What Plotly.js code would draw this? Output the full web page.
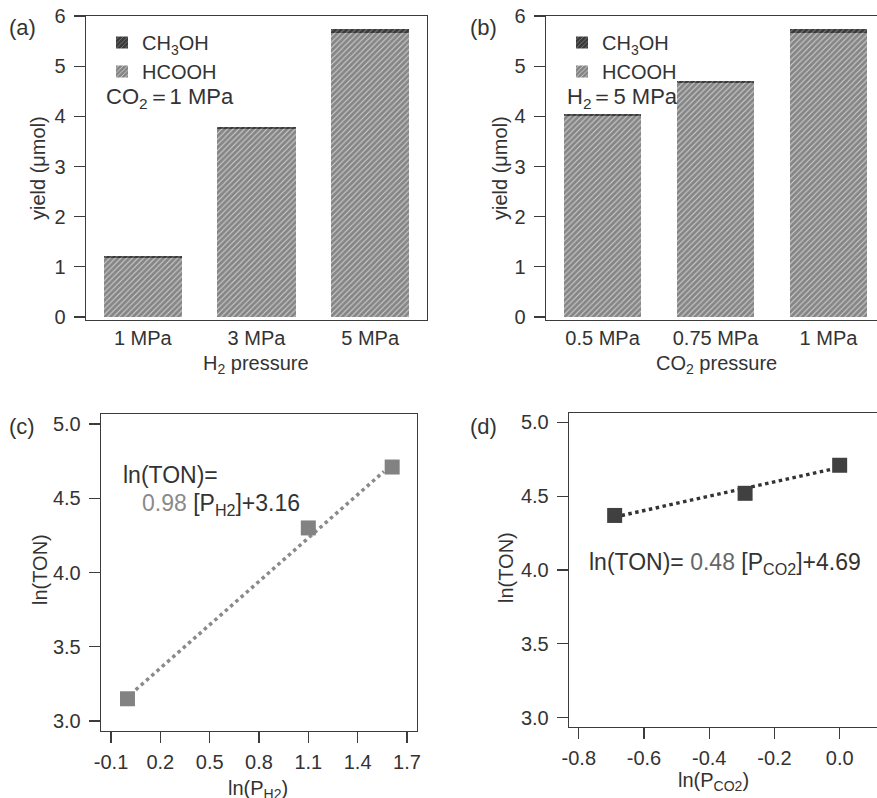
<!DOCTYPE html>
<html>
<head>
<meta charset="utf-8">
<script src="https://cdn.plot.ly/plotly-3.0.1.min.js"></script>
<style>
html,body{margin:0;padding:0;overflow:hidden;background:#fff;}
#chart{width:892px;height:798px;}
</style>
</head>
<body>
<div id="chart"></div>
<script>
// ---- data ----
const h2Pressures = ['1 MPa', '3 MPa', '5 MPa'];
const hcoohA = [1.17, 3.74, 5.66];
const ch3ohA = [0.04, 0.05, 0.08];

const co2Pressures = ['0.5 MPa', '0.75 MPa', '1 MPa'];
const hcoohB = [4.01, 4.67, 5.66];
const ch3ohB = [0.04, 0.04, 0.08];

const lnPH2 = [0.0, 1.10, 1.61];
const lnTONc = [3.15, 4.30, 4.71];
const fitCx = [0.05, 1.56];
const fitCy = [3.21, 4.68];

const lnPCO2 = [-0.69, -0.29, 0.0];
const lnTONd = [4.37, 4.52, 4.71];
const fitDx = [-0.69, -0.01];
const fitDy = [4.36, 4.69];

const cTicks = [-0.1, 0.2, 0.5, 0.8, 1.1, 1.4, 1.7];
const cTickText = ['-0.1', '0.2', '0.5', '0.8', '1.1', '1.4', '1.7'];
const dTicks = [-0.8, -0.6, -0.4, -0.2, 0.0];
const dTickText = ['-0.8', '-0.6', '-0.4', '-0.2', '0.0'];

// ---- layout helpers ----
const W = 892, H = 798;
const px = x => x / W;
const py = y => 1 - y / H;
const FONT = 'Liberation Sans, Arial, sans-serif';
const TXT = '#333333';
const AX = '#3c3c3c';

const patH = {shape: '/', bgcolor: '#858585', fgcolor: '#cfcfcf', size: 4, solidity: 0.28};
const patC = {shape: '/', bgcolor: '#3a3a3a', fgcolor: '#7a7a7a', size: 4, solidity: 0.28};

const traces = [
  {type: 'bar', x: h2Pressures, y: hcoohA, name: 'HCOOH', xaxis: 'x', yaxis: 'y',
   marker: {color: '#858585', pattern: patH, line: {width: 0}}, legend: 'legend'},
  {type: 'bar', x: h2Pressures, y: ch3ohA, name: 'CH<sub>3</sub>OH', xaxis: 'x', yaxis: 'y',
   marker: {color: '#3a3a3a', pattern: patC, line: {width: 0}}, legend: 'legend'},
  {type: 'bar', x: co2Pressures, y: hcoohB, name: 'HCOOH', xaxis: 'x2', yaxis: 'y2',
   marker: {color: '#858585', pattern: patH, line: {width: 0}}, legend: 'legend2'},
  {type: 'bar', x: co2Pressures, y: ch3ohB, name: 'CH<sub>3</sub>OH', xaxis: 'x2', yaxis: 'y2',
   marker: {color: '#3a3a3a', pattern: patC, line: {width: 0}}, legend: 'legend2'},
  {type: 'scatter', mode: 'lines', x: fitCx, y: fitCy, xaxis: 'x3', yaxis: 'y3', showlegend: false,
   line: {color: '#8a8a8a', width: 3.5, dash: 'dot'}},
  {type: 'scatter', mode: 'markers', x: lnPH2, y: lnTONc, xaxis: 'x3', yaxis: 'y3', showlegend: false,
   marker: {symbol: 'square', size: 15, color: '#828282'}},
  {type: 'scatter', mode: 'lines', x: fitDx, y: fitDy, xaxis: 'x4', yaxis: 'y4', showlegend: false,
   line: {color: '#333333', width: 3.5, dash: 'dot'}},
  {type: 'scatter', mode: 'markers', x: lnPCO2, y: lnTONd, xaxis: 'x4', yaxis: 'y4', showlegend: false,
   marker: {symbol: 'square', size: 15, color: '#404040'}}
];

const tickFont = {family: FONT, size: 20, color: TXT};
const baseAxis = {
  showgrid: false, zeroline: false, showline: true, linecolor: AX, linewidth: 1.3,
  mirror: true, tickfont: tickFont, tickcolor: AX, automargin: false, fixedrange: true
};

const layout = {
  width: W, height: H,
  margin: {l: 0, r: 0, t: 0, b: 0},
  paper_bgcolor: '#ffffff', plot_bgcolor: '#ffffff',
  font: {family: FONT, color: TXT},
  barmode: 'stack', bargap: 0.31,
  xaxis: Object.assign({}, baseAxis, {domain: [px(86), px(427)], anchor: 'y', ticks: '', ticklabelstandoff: 0}),
  yaxis: Object.assign({}, baseAxis, {domain: [py(320), py(16)], anchor: 'x', range: [-0.06, 6],
    dtick: 1, ticks: 'outside', ticklen: 11, tickwidth: 1.2, ticklabelstandoff: 4}),
  xaxis2: Object.assign({}, baseAxis, {domain: [px(546), px(885)], anchor: 'y2', ticks: '', ticklabelstandoff: 0}),
  yaxis2: Object.assign({}, baseAxis, {domain: [py(320), py(16)], anchor: 'x2', range: [-0.06, 6],
    dtick: 1, ticks: 'outside', ticklen: 11, tickwidth: 1.2, ticklabelstandoff: 4}),
  xaxis3: Object.assign({}, baseAxis, {domain: [px(101), px(417)], anchor: 'y3', range: [-0.161, 1.761],
    tickmode: 'array', tickvals: cTicks, ticktext: cTickText, ticks: 'outside', ticklen: 11, tickwidth: 1.2, ticklabelstandoff: 2}),
  yaxis3: Object.assign({}, baseAxis, {domain: [py(731), py(414)], anchor: 'x3', range: [2.933, 5.067],
    dtick: 0.5, tickformat: '.1f', ticks: 'outside', ticklen: 11, tickwidth: 1.2, ticklabelstandoff: 4}),
  xaxis4: Object.assign({}, baseAxis, {domain: [px(569), px(885)], anchor: 'y4', range: [-0.83, 0.139],
    tickmode: 'array', tickvals: dTicks, ticktext: dTickText, ticks: 'outside', ticklen: 11, tickwidth: 1.2, ticklabelstandoff: 2}),
  yaxis4: Object.assign({}, baseAxis, {domain: [py(727), py(413)], anchor: 'x4', range: [2.937, 5.064],
    dtick: 0.5, tickformat: '.1f', ticks: 'outside', ticklen: 11, tickwidth: 1.2, ticklabelstandoff: 4}),
  legend: {x: px(102), y: py(23), xanchor: 'left', yanchor: 'top', traceorder: 'reversed',
    bgcolor: 'rgba(0,0,0,0)', font: {family: FONT, size: 20, color: TXT}, itemwidth: 30, tracegroupgap: 0},
  legend2: {x: px(562), y: py(23), xanchor: 'left', yanchor: 'top', traceorder: 'reversed',
    bgcolor: 'rgba(0,0,0,0)', font: {family: FONT, size: 20, color: TXT}, itemwidth: 30, tracegroupgap: 0},
  annotations: []
};

function ann(text, x, y, opts) {
  layout.annotations.push(Object.assign({
    text: text, xref: 'paper', yref: 'paper', x: px(x), y: py(y),
    xanchor: 'left', yanchor: 'middle', showarrow: false,
    font: {family: FONT, size: 20, color: TXT}
  }, opts || {}));
}

// panel labels
ann('(a)', 7, 27, {font: {family: FONT, size: 22, color: TXT}});
ann('(b)', 468, 27, {font: {family: FONT, size: 22, color: TXT}});
ann('(c)', 7, 426, {font: {family: FONT, size: 22, color: TXT}});
ann('(d)', 468, 426, {font: {family: FONT, size: 22, color: TXT}});

// condition texts
ann('CO<sub>2</sub>＝1 MPa', 104, 98, {font: {family: FONT, size: 22, color: TXT}});
ann('H<sub>2</sub>＝5 MPa', 565, 98, {font: {family: FONT, size: 22, color: TXT}});

// axis titles
ann('yield (μmol)', 38, 168, {xanchor: 'center', textangle: -90});
ann('yield (μmol)', 500, 168, {xanchor: 'center', textangle: -90});
ann('H<sub>2</sub> pressure', 256, 364, {xanchor: 'center'});
ann('CO<sub>2</sub> pressure', 716, 364, {xanchor: 'center'});
ann('ln(TON)', 40, 570, {xanchor: 'center', textangle: -90});
ann('ln(TON)', 506, 568, {xanchor: 'center', textangle: -90});
ann('ln(P<sub>H2</sub>)', 258, 789, {xanchor: 'center'});
ann('ln(P<sub>CO2</sub>)', 713, 781, {xanchor: 'center'});

// fit equations
ann('ln(TON)=', 121, 475, {font: {family: FONT, size: 23, color: TXT}});
ann('<span style="color:#8a8a8a">0.98</span> [P<sub>H2</sub>]+3.16', 140, 504, {font: {family: FONT, size: 23, color: TXT}});
ann('ln(TON)= <span style="color:#666666">0.48</span> [P<sub>CO2</sub>]+4.69', 587, 563, {font: {family: FONT, size: 23, color: TXT}});

Plotly.newPlot('chart', traces, layout, {displayModeBar: false, staticPlot: true});
</script>
</body>
</html>
